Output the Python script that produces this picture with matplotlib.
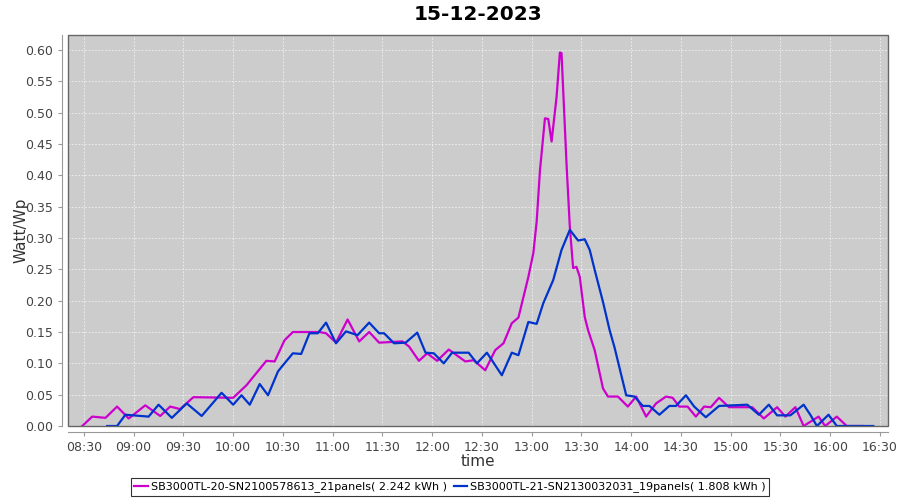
import pandas as pd
import matplotlib
matplotlib.use('Agg')
import matplotlib.pyplot as plt
import matplotlib.dates as mdates
from matplotlib.patches import Rectangle

# Donnees (heure, Watt/Wp)
t_sn20 = ['08:29', '08:35', '08:43', '08:50', '08:57', '09:07', '09:16', '09:22', '09:28',
          '09:36', '10:00', '10:08', '10:20', '10:25', '10:31', '10:36', '10:52', '10:56',
          '11:02', '11:09', '11:16', '11:22', '11:28', '11:42', '11:46', '11:52', '11:57',
          '12:03', '12:10', '12:20', '12:25', '12:32', '12:38', '12:43', '12:48', '12:52',
          '12:58', '13:01', '13:03', '13:05', '13:08', '13:10', '13:12', '13:15', '13:17',
          '13:18', '13:21', '13:23', '13:25', '13:27', '13:29', '13:32', '13:34', '13:38',
          '13:43', '13:46', '13:52', '13:58', '14:03', '14:09', '14:15', '14:21', '14:25',
          '14:29', '14:34', '14:39', '14:44', '14:48', '14:53', '14:59', '15:13', '15:20',
          '15:28', '15:33', '15:39', '15:44', '15:53', '15:57', '16:04', '16:10', '16:20']
v_sn20 = [0.0, 0.015, 0.013, 0.031, 0.012, 0.033, 0.016, 0.031, 0.027,
          0.046, 0.045, 0.065, 0.104, 0.103, 0.137, 0.150, 0.150, 0.148,
          0.133, 0.170, 0.135, 0.150, 0.133, 0.135, 0.127, 0.104, 0.116,
          0.104, 0.122, 0.103, 0.105, 0.089, 0.121, 0.132, 0.164, 0.173,
          0.238, 0.276, 0.326, 0.408, 0.491, 0.490, 0.454, 0.525, 0.596,
          0.595, 0.419, 0.318, 0.252, 0.254, 0.238, 0.174, 0.153, 0.121,
          0.060, 0.047, 0.047, 0.031, 0.047, 0.015, 0.036, 0.047, 0.045,
          0.031, 0.031, 0.015, 0.031, 0.030, 0.045, 0.030, 0.030, 0.012,
          0.030, 0.015, 0.030, 0.0, 0.015, 0.0, 0.015, 0.0, 0.0]

t_sn21 = ['08:44', '08:50', '08:55', '09:09', '09:15', '09:23', '09:32', '09:41', '09:53',
          '10:00', '10:05', '10:10', '10:16', '10:21', '10:27', '10:30', '10:36', '10:41',
          '10:46', '10:51', '10:56', '11:02', '11:08', '11:15', '11:22', '11:28', '11:31',
          '11:37', '11:44', '11:51', '11:56', '12:01', '12:07', '12:12', '12:22', '12:27',
          '12:33', '12:42', '12:48', '12:52', '12:58', '13:03', '13:07', '13:13', '13:18',
          '13:23', '13:28', '13:32', '13:35', '13:38', '13:43', '13:47', '13:50', '13:57',
          '14:02', '14:07', '14:11', '14:17', '14:23', '14:27', '14:33', '14:38', '14:45',
          '14:53', '15:10', '15:17', '15:23', '15:28', '15:36', '15:44', '15:48', '15:52',
          '15:59', '16:04', '16:26']
v_sn21 = [0.0, 0.0, 0.018, 0.015, 0.034, 0.013, 0.036, 0.016, 0.053,
          0.034, 0.049, 0.034, 0.067, 0.049, 0.087, 0.097, 0.116, 0.115,
          0.148, 0.148, 0.165, 0.132, 0.151, 0.145, 0.165, 0.148, 0.148,
          0.132, 0.133, 0.149, 0.117, 0.116, 0.100, 0.117, 0.117, 0.100,
          0.117, 0.081, 0.117, 0.113, 0.166, 0.163, 0.196, 0.233, 0.281,
          0.313, 0.296, 0.298, 0.281, 0.249, 0.198, 0.153, 0.125, 0.049,
          0.047, 0.032, 0.032, 0.018, 0.032, 0.032, 0.049, 0.031, 0.014,
          0.032, 0.034, 0.018, 0.034, 0.017, 0.017, 0.034, 0.018, 0.0,
          0.018, 0.0, 0.0]

label_sn20 = 'SB3000TL-20-SN2100578613_21panels( 2.242 kWh )'
label_sn21 = 'SB3000TL-21-SN2130032031_19panels( 1.808 kWh )'
jour = '2023-12-15'

x20 = pd.to_datetime([jour + ' ' + t for t in t_sn20])
x21 = pd.to_datetime([jour + ' ' + t for t in t_sn21])

plt.rcParams['font.family'] = ['DejaVu Sans']

fig = plt.figure(figsize=(9, 5), dpi=100)
ax = fig.add_axes([0.0756, 0.148, 0.911, 0.782])
ax.set_facecolor('#cccccc')

ax.plot(x20, v_sn20, color='#cc00cc', lw=1.6, label=label_sn20)
ax.plot(x21, v_sn21, color='#0033cc', lw=1.6, label=label_sn21)

ax.set_xlim(pd.Timestamp(jour + ' 08:20:25'), pd.Timestamp(jour + ' 16:34:50'))
ax.set_ylim(0, 0.624)
ax.set_yticks([i * 0.05 for i in range(13)])
ax.yaxis.set_major_formatter(matplotlib.ticker.FormatStrFormatter('%.2f'))
ax.xaxis.set_major_locator(mdates.MinuteLocator(byminute=[0, 30]))
ax.xaxis.set_major_formatter(mdates.DateFormatter('%H:%M'))

ax.grid(True, color='#f2f2f2', ls=(0, (2, 2)), lw=0.6)
ax.set_axisbelow(True)

for s in ['top', 'right']:
    ax.spines[s].set_visible(False)
for s in ['left', 'bottom']:
    ax.spines[s].set_position(('outward', 4))
    ax.spines[s].set_color('#999999')
ax.add_patch(Rectangle((0, 0), 1, 1, transform=ax.transAxes, fill=False,
                       edgecolor='#666666', lw=1, clip_on=False, zorder=5))
ax.tick_params(colors='#999999', labelcolor='#444444', labelsize=9, length=3)

ax.set_title('15-12-2023', fontsize=14.5, fontweight='bold', pad=11)
ax.set_xlabel('time', fontsize=11, color='#333333', labelpad=0)
ax.set_ylabel('Watt/Wp', fontsize=11, color='#333333', labelpad=-2)

leg = fig.legend(loc='center', bbox_to_anchor=(0.5, 0.026), ncol=2, fontsize=8.0,
                 frameon=True, fancybox=False, handlelength=1.2, handletextpad=0.3,
                 columnspacing=0.6, borderpad=0.3)
leg.get_frame().set_edgecolor('black')
leg.get_frame().set_linewidth(0.8)

fig.savefig('out.png', dpi=100)
